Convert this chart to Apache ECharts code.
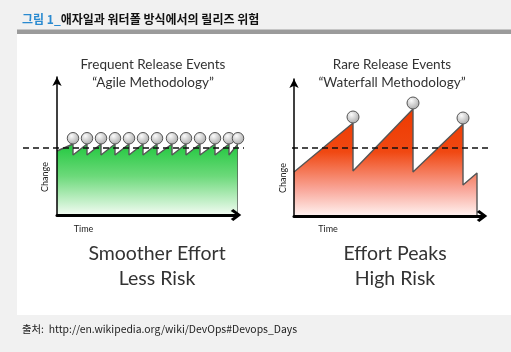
<!DOCTYPE html>
<html><head><meta charset="utf-8">
<script src="https://cdn.jsdelivr.net/npm/echarts@6/dist/echarts.min.js"></script>
<style>html,body{margin:0;padding:0;background:#f1f1f1}#c{width:511px;height:352px}</style>
</head><body><div id="c"></div>
<script>
// ---- Left panel: frequent releases (Agile) ----
const agileTime   = [0, 16, 16, 30, 30, 44, 44, 58, 58, 72, 72, 86, 86, 100, 100, 115, 115, 129, 129, 143, 143, 158, 158, 172, 172, 181, 181];
const agileChange = [64, 71, 60, 71, 60, 71, 60, 71, 60, 71, 60, 71, 60, 71, 60, 71, 60, 71, 60, 71, 60, 71, 60, 71, 60, 71, 0];
const agileReleaseTime   = [16, 30, 44, 58, 72, 86, 100, 115, 129, 143, 158, 172, 181];
const agileReleaseChange = [71, 71, 71, 71, 71, 71, 71, 71, 71, 71, 71, 71, 71];
const agileThreshold = 67;
const agileThresholdSpan = [-34, 187];
const agileAxisMax = [179, 138];

// ---- Right panel: rare releases (Waterfall) ----
const waterfallTime   = [0, 59, 59, 119, 119, 169, 169, 183, 183];
const waterfallChange = [44, 93, 45, 107, 44, 92, 31, 43, 0];
const waterfallReleaseTime   = [59, 119, 169];
const waterfallReleaseChange = [93, 107, 92];
const waterfallThreshold = 68;
const waterfallThresholdSpan = [-2, 198];
const waterfallAxisMax = [188, 137];

// ---- Texts ----
const headerPrefix = '그림 1_';
const headerText = '애자일과 워터폴 방식에서의 릴리즈 위험';
const footerText = '출처:  http://en.wikipedia.org/wiki/DevOps#Devops_Days';
const leftTitle = ['Frequent Release Events', '\u201cAgile Methodology\u201d'];
const rightTitle = ['Rare Release Events', '\u201cWaterfall Methodology\u201d'];
const leftCaption = ['Smoother Effort', 'Less Risk'];
const rightCaption = ['Effort Peaks', 'High Risk'];
const yName = 'Change', xName = 'Time';

const zip = (a, b) => a.map((v, i) => [v, b[i]]);
const chevron = 'path://M6,0 L12,8 L10,10.5 L6,4.6 L2,10.5 L0,8 Z';

function grad(stops) {
  return new echarts.graphic.LinearGradient(0, 0, 0, 1, stops.map((c) => ({offset: c[0], color: c[1]})));
}
const ball = {
  type: 'radial', x: 0.38, y: 0.32, r: 0.75,
  colorStops: [{offset: 0, color: '#fbfbfb'}, {offset: 1, color: '#a4a4a4'}]
};

function axesFor(idx, max) {
  return {
    x: {
      type: 'value', gridIndex: idx, min: 0, max: max[0], z: 6,
      axisLine: {show: true, symbol: ['none', chevron], symbolSize: [12, 11],
        lineStyle: {color: '#000', width: 3}},
      axisTick: {show: false}, axisLabel: {show: false}, splitLine: {show: false}
    },
    y: {
      type: 'value', gridIndex: idx, min: 0, max: max[1], z: 6,
      axisLine: {show: true, symbol: ['none', 'arrow'], symbolSize: [7, 9],
        lineStyle: {color: '#000', width: 1.5}},
      axisTick: {show: false}, axisLabel: {show: false}, splitLine: {show: false}
    }
  };
}
function spanAxesFor(idx, span, max) {
  return {
    x: {type: 'value', gridIndex: idx, min: span[0], max: span[1], show: false},
    y: {type: 'value', gridIndex: idx, min: 0, max: max[1], show: false}
  };
}
const la = axesFor(0, agileAxisMax), ra = axesFor(1, waterfallAxisMax);
const ls = spanAxesFor(2, agileThresholdSpan, agileAxisMax), rs = spanAxesFor(3, waterfallThresholdSpan, waterfallAxisMax);

function panelSeries(idx, spanIdx, t, c, rt, rc, th, span, fill, ballSize) {
  return [
    {type: 'line', xAxisIndex: idx, yAxisIndex: idx, data: zip(t, c), symbol: 'none', clip: false, z: 2,
      lineStyle: {color: '#555', width: 1.4}, areaStyle: {color: fill, opacity: 1}},
    {type: 'line', xAxisIndex: spanIdx, yAxisIndex: spanIdx, data: [[span[0], th], [span[1], th]], symbol: 'none', z: 3,
      lineStyle: {color: '#111', width: 1.5, type: [6, 4]}},
    {type: 'scatter', xAxisIndex: idx, yAxisIndex: idx, data: zip(rt, rc), symbolSize: ballSize, symbolOffset: [0, -ballSize / 2], clip: false, z: 4,
      itemStyle: {color: ball, borderColor: '#555', borderWidth: 1, opacity: 1}}
  ];
}

const green = grad([[0, '#22c83f'], [0.45, '#6cd97a'], [1, '#f3fcf3']]);
const red = grad([[0, '#ee3a00'], [0.4, '#f04812'], [0.75, '#f9a699'], [1, '#fff3f1']]);

function txt(x, y, text, size, opts) {
  return {type: 'text', x: x, y: y, silent: true,
    style: Object.assign({text: text, font: size + 'px Lato', fill: '#333', align: 'center', verticalAlign: 'middle'}, opts || {})};
}

const chart = echarts.init(document.getElementById('c'), null, {renderer: 'canvas'});
chart.setOption({
  animation: false,
  backgroundColor: '#f1f1f1',
  grid: [
    {left: 57, top: 77, width: agileAxisMax[0], height: agileAxisMax[1]},
    {left: 294, top: 79, width: waterfallAxisMax[0], height: waterfallAxisMax[1]},
    {left: 23, top: 77, width: 221, height: agileAxisMax[1]},
    {left: 292, top: 79, width: 200, height: waterfallAxisMax[1]}
  ],
  xAxis: [la.x, ra.x, ls.x, rs.x],
  yAxis: [la.y, ra.y, ls.y, rs.y],
  series: [].concat(
    panelSeries(0, 2, agileTime, agileChange, agileReleaseTime, agileReleaseChange, agileThreshold, agileThresholdSpan, green, 11.5),
    panelSeries(1, 3, waterfallTime, waterfallChange, waterfallReleaseTime, waterfallReleaseChange, waterfallThreshold, waterfallThresholdSpan, red, 12)
  ),
  graphic: [
    {type: 'rect', silent: true, z: -10, shape: {x: 17, y: 34, width: 494, height: 281}, style: {fill: '#ffffff'}},
    {type: 'rect', silent: true, z: -10, shape: {x: 17, y: 29.5, width: 494, height: 4.5}, style: {fill: '#9b9b9b'}},
    {type: 'text', x: 22, y: 19, silent: true, style: {
      text: '{a|' + headerPrefix + '}{b|' + headerText + '}', verticalAlign: 'middle', align: 'left',
      rich: {
        a: {font: 'bold 12px "Noto Sans CJK KR"', fill: '#2a8ad0'},
        b: {font: 'bold 12px "Noto Sans CJK KR"', fill: '#111'}
      }}},
    {type: 'text', x: 22, y: 329, silent: true, style: {text: footerText, font: '10.4px "Noto Sans CJK KR"', fill: '#222', align: 'left', verticalAlign: 'middle'}},
    txt(153, 65, leftTitle[0], 13.5),
    txt(153, 83, leftTitle[1], 13.5),
    txt(392, 65, rightTitle[0], 13.5),
    txt(392, 83, rightTitle[1], 13.5),
    txt(157, 254, leftCaption[0], 19.5),
    txt(157, 279, leftCaption[1], 19.5),
    txt(395, 254, rightCaption[0], 19.5),
    txt(395, 279, rightCaption[1], 19.5),
    txt(83.5, 229, xName, 9, {fill: '#222'}),
    txt(328, 229, xName, 9, {fill: '#222'}),
    Object.assign(txt(0, 0, yName, 9, {fill: '#222'}), {x: 45, y: 177, rotation: Math.PI / 2}),
    Object.assign(txt(0, 0, yName, 9, {fill: '#222'}), {x: 283, y: 178, rotation: Math.PI / 2})
  ]
});
</script></body></html>
